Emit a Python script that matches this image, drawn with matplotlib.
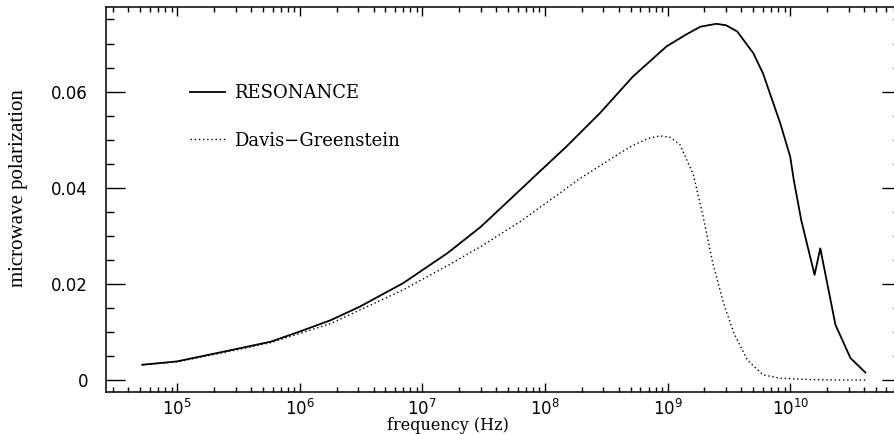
import numpy as np
import matplotlib
matplotlib.use("Agg")
from matplotlib import pyplot as plt
from matplotlib.ticker import LogLocator, FixedLocator, MultipleLocator, FuncFormatter

# values
freq_res = [5.2e4, 1e5, 2.7e5, 5.8e5, 1e6, 1.8e6, 3.1e6, 7e6, 1.6e7, 3e7, 6.3e7, 8e7,
            1.5e8, 2.8e8, 5.2e8, 9.8e8, 1.4e9, 1.85e9, 2.5e9, 3e9, 3.7e9, 5e9, 6e9, 8.3e9,
            1e10, 1.07e10, 1.23e10, 1.58e10, 1.76e10, 2.34e10, 3.1e10, 4.1e10]
pol_res = [0.0032, 0.0039, 0.0062, 0.0080, 0.0101, 0.0125, 0.0153, 0.0202, 0.0264, 0.0319,
           0.0396, 0.0421, 0.0486, 0.0555, 0.0631, 0.0694, 0.0718, 0.0735, 0.0741, 0.0738,
           0.0725, 0.0680, 0.0638, 0.0534, 0.0465, 0.0416, 0.0333, 0.0219, 0.0274, 0.0115,
           0.0046, 0.0016]

freq_dg = [5.2e4, 1e5, 2.7e5, 5.8e5, 1e6, 1.8e6, 3.1e6, 7e6, 1.6e7, 3e7, 6.3e7, 1.95e8,
           4.2e8, 5.2e8, 7e8, 8.7e8, 1.05e9, 1.26e9, 1.62e9, 1.95e9, 2.34e9, 2.86e9, 3.47e9,
           4.47e9, 6e9, 8.3e9, 1.5e10, 4.1e10]
pol_dg = [0.0032, 0.0038, 0.0060, 0.0078, 0.0097, 0.0118, 0.0146, 0.0188, 0.0238, 0.0278,
          0.0330, 0.0420, 0.0474, 0.0488, 0.0503, 0.0508, 0.0505, 0.0490, 0.0428, 0.0340,
          0.0243, 0.0160, 0.0098, 0.0042, 0.0011, 0.0004, 0.0001, 0.0]

labels = ["RESONANCE", "Davis\u2212Greenstein"]
xticks = [1e5, 1e6, 1e7, 1e8, 1e9, 1e10]
yticks = [0, 0.02, 0.04, 0.06]

plt.rcParams['mathtext.fontset'] = 'dejavusans'

fig = plt.figure(figsize=(8.94, 4.34), dpi=100)
ax = fig.add_axes([0.1186, 0.0975, 0.8894, 0.8864])

ax.plot(freq_res, pol_res, color='black', lw=1.3, label=labels[0])
ax.plot(freq_dg, pol_dg, color='black', lw=1.0, linestyle=(0, (1, 2)), label=labels[1])

ax.set_xscale('log')
ax.set_xlim(10 ** 4.42, 10 ** 10.905)
ax.set_ylim(-0.0024, 0.0776)

ax.xaxis.set_major_locator(FixedLocator(xticks))
ax.xaxis.set_minor_locator(LogLocator(base=10, subs=np.arange(2, 10), numticks=20))
ax.yaxis.set_major_locator(FixedLocator(yticks))
ax.yaxis.set_minor_locator(MultipleLocator(0.005))
ax.yaxis.set_major_formatter(FuncFormatter(lambda v, p: "0" if v == 0 else ("%.2f" % v)))

for s in ax.spines.values():
    s.set_linewidth(1.1)
ax.tick_params(axis='both', which='both', direction='in', top=True, right=True, width=1.0)
ax.tick_params(axis='y', which='major', length=13.7, pad=13)
ax.tick_params(axis='y', which='minor', length=5.8)
ax.tick_params(axis='x', which='major', length=6.5, pad=5)
ax.tick_params(axis='x', which='minor', length=3.6)
ax.tick_params(labelsize=12)

ax.set_xlabel("frequency (Hz)", family='DejaVu Serif', fontsize=11.5)
ax.xaxis.set_label_coords(0.43, -0.066)
ax.set_ylabel("microwave polarization", family='Liberation Serif', fontsize=15)
ax.yaxis.set_label_coords(-0.098, 0.53)

leg = ax.legend(loc='upper left', bbox_to_anchor=(0.085, 0.842), frameon=False,
                handlelength=1.95, handletextpad=0.5, labelspacing=1.65,
                prop={'family': 'DejaVu Serif', 'size': 13})

fig.savefig("out.png", dpi=100)
